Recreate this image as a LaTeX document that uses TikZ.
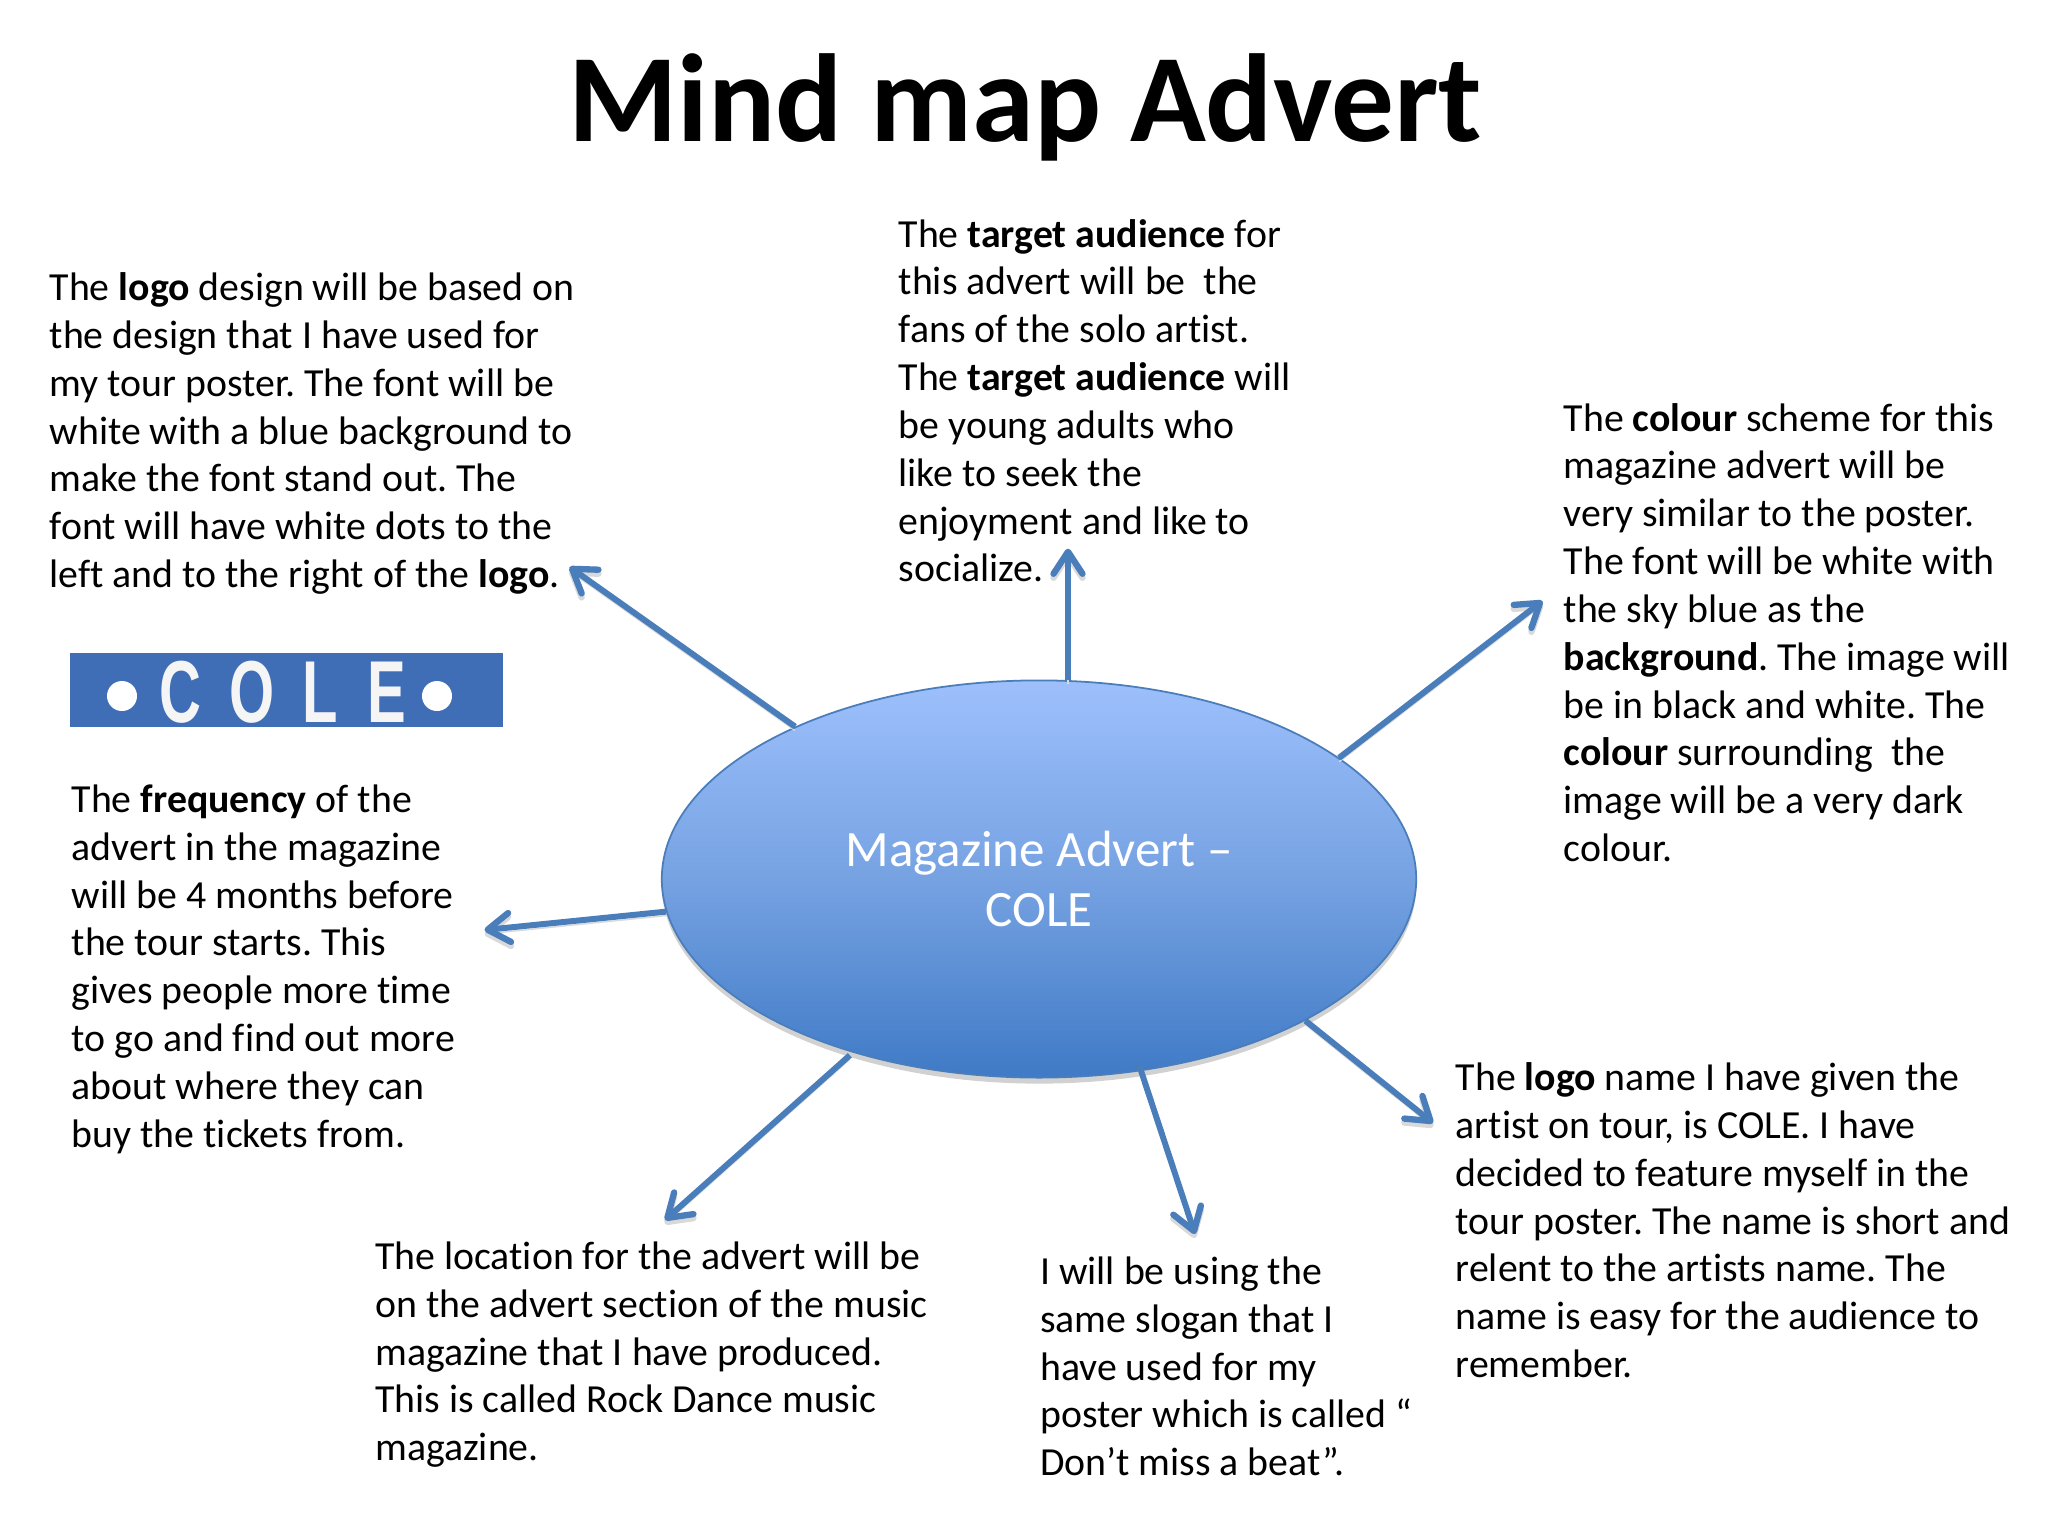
\documentclass[tikz,border=0pt]{standalone}
\usepackage{fontspec}
\setmainfont{Carlito}[Ligatures=NoCommon]
\newfontfamily\logofont{Liberation Sans}
\usepackage{tikz}
\usetikzlibrary{arrows.meta,shapes.geometric,shadows}
\definecolor{bleuFleche}{HTML}{4A7EBB}
\definecolor{bleuHaut}{HTML}{9DC0FC}
\definecolor{bleuMilieu}{HTML}{76A2E2}
\definecolor{bleuBas}{HTML}{3F7AC6}
\definecolor{bleuLogo}{HTML}{3F6EB7}

\begin{document}
\frenchspacing
\begin{tikzpicture}[x=0.01cm,y=-0.01cm]
\tikzstyle{fleche}=[-{Straight Barb[length=0.22cm,width=0.29cm,line width=1.8pt,round]},bleuFleche,line width=1.7pt,preaction={draw=black!15,transform canvas={yshift=-0.04cm}}]
\tikzstyle{texte}=[anchor=north west,align=left,inner sep=0pt,font=\fontsize{11.32}{13.6}\selectfont]
\tikzstyle{titre}=[inner sep=0pt,font=\fontsize{35.6}{40}\selectfont\bfseries]
\tikzstyle{centre}=[ellipse,draw=bleuFleche,line width=0.5pt,inner sep=0pt,minimum width=7.54cm,minimum height=3.97cm,align=center,text=white,font=\fontsize{14.5}{17.2}\selectfont,top color=bleuHaut,bottom color=bleuBas,middle color=bleuMilieu,drop shadow={shadow xshift=0cm,shadow yshift=-0.06cm,opacity=0.18,fill=black}]
\tikzstyle{bandeau}=[anchor=north west,fill=bleuLogo,inner sep=0pt,minimum width=4.33cm,minimum height=0.74cm]
\tikzstyle{lettre}=[inner sep=0pt,text=white!96!black,font=\logofont\bfseries\fontsize{25}{25}\selectfont,xscale=0.66,transform shape]
\tikzstyle{point}=[circle,fill=white,inner sep=0pt,minimum size=0.3cm]
\useasboundingbox (0,0) rectangle (2048,1536);
\fill[white] (0,0) rectangle (2048,1536);
\node[titre] (Titre) at (1025,107.5) {Mind map Advert};
\node[centre] (Centre) at (1039,879) {Magazine Advert --\\COLE};
\node[bandeau] (Bandeau) at (69.5,652) {};
\node[point] (PointG) at (122,696) {};
\node[point] (PointD) at (437,696) {};
\node[lettre] (LettreC) at (180,692) {C};
\node[lettre] (LettreO) at (252,692) {O};
\node[lettre] (LettreL) at (320,692) {L};
\node[lettre] (LettreE) at (387,692) {E};
\node[texte] (Logo) at (49,272) {The \textbf{logo} design will be based on\\the design that I have used for\\my tour poster. The font will be\\white with a blue background to\\make the font stand out. The\\font will have white dots to the\\left and to the right of the \textbf{logo}.};
\node[texte] (Cible) at (898,218.5) {The \textbf{target audience} for\\this advert will be\ \ the\\fans of the solo artist.\\The \textbf{target audience} will\\be young adults who\\like to seek the\\enjoyment and like to\\socialize.};
\node[texte] (Couleur) at (1563,402.5) {The \textbf{colour} scheme for this\\magazine advert will be\\very similar to the poster.\\The font will be white with\\the sky blue as the\\\textbf{background}. The image will\\be in black and white. The\\\textbf{colour} surrounding\ \ the\\image will be a very dark\\colour.};
\node[texte] (Frequence) at (71,784) {The \textbf{frequency} of the\\advert in the magazine\\will be 4 months before\\the tour starts. This\\gives people more time\\to go and find out more\\about where they can\\buy the tickets from.};
\node[texte] (Lieu) at (374.5,1241) {The location for the advert will be\\on the advert section of the music\\magazine that I have produced.\\This is called Rock Dance music\\magazine.};
\node[texte] (Slogan) at (1039.5,1256) {I will be using the\\same slogan that I\\have used for my\\poster which is called “\\Don’t miss a beat”.};
\node[texte] (Nom) at (1455,1062) {The \textbf{logo} name I have given the\\artist on tour, is COLE. I have\\decided to feature myself in the\\tour poster. The name is short and\\relent to the artists name. The\\name is easy for the audience to\\remember.};
\coordinate (BoutLogo) at (569.5,567);
\coordinate (BoutCible) at (1068,548.6);
\coordinate (BoutCouleur) at (1542.5,601);
\coordinate (BoutFrequence) at (484.5,930);
\coordinate (BoutLieu) at (665,1220);
\coordinate (BoutSlogan) at (1195,1234);
\coordinate (BoutNom) at (1433,1123);
\draw[fleche] (Centre.148.3)--(BoutLogo);
\draw[fleche] (BoutCible|-Centre.81.6)--(BoutCible);
\draw[fleche] (Centre.22)--(BoutCouleur);
\draw[fleche] (Centre.185.6)--(BoutFrequence);
\draw[fleche,shorten <=0.04cm] (Centre.223.5)--(BoutLieu);
\draw[fleche,shorten <=-0.06cm] (Centre.298.6)--(BoutSlogan);
\draw[fleche] (Centre.332.1)--(BoutNom);
\end{tikzpicture}
\end{document}
